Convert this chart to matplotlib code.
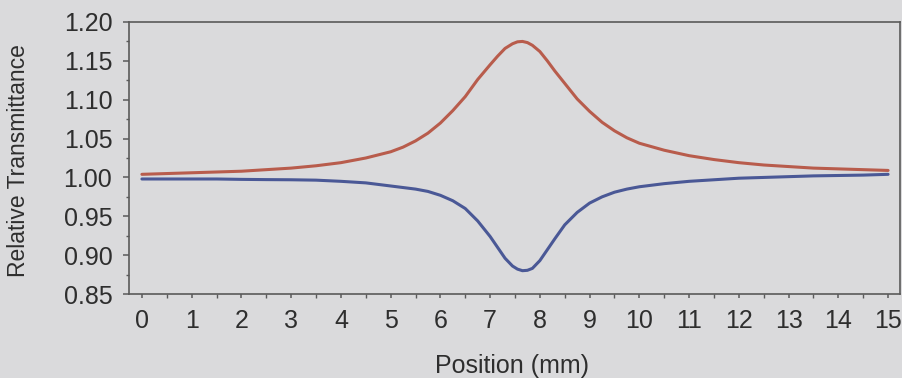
import matplotlib
matplotlib.use("Agg")
import matplotlib.pyplot as plt
from matplotlib.ticker import MultipleLocator, FormatStrFormatter

plt.rcParams["font.family"] = ["Liberation Sans", "DejaVu Sans"]

# z-scan positions (mm)
position = [0, 0.5, 1, 1.5, 2, 2.5, 3, 3.5, 4, 4.5, 5, 5.25, 5.5, 5.75,
            6.0, 6.25, 6.5, 6.75, 7.0, 7.15, 7.3, 7.45, 7.55, 7.65,
            7.75, 7.85, 8.0, 8.15, 8.3, 8.5, 8.75, 9.0, 9.25, 9.5,
            9.75, 10, 10.5, 11, 11.5, 12, 12.5, 13, 13.5, 14, 14.5, 15]

# closed-aperture trace (peak)
peak = [1.004, 1.005, 1.006, 1.007, 1.008, 1.010, 1.012, 1.015, 1.019,
        1.025, 1.033, 1.039, 1.047, 1.057, 1.070, 1.086, 1.104, 1.126,
        1.145, 1.156, 1.166, 1.172, 1.1745, 1.175, 1.1735, 1.170, 1.162,
        1.150, 1.137, 1.121, 1.101, 1.085, 1.071, 1.060, 1.051, 1.044,
        1.035, 1.028, 1.023, 1.019, 1.016, 1.014, 1.012, 1.011, 1.010,
        1.009]

# open-aperture trace (valley)
valley = [0.998, 0.998, 0.998, 0.998, 0.9975, 0.9972, 0.997, 0.9965,
          0.995, 0.993, 0.989, 0.987, 0.985, 0.982, 0.977, 0.970, 0.960,
          0.944, 0.924, 0.910, 0.896, 0.886, 0.882, 0.880, 0.8805, 0.883,
          0.893, 0.907, 0.921, 0.939, 0.955, 0.967, 0.975, 0.981, 0.985,
          0.988, 0.992, 0.995, 0.997, 0.999, 1.000, 1.001, 1.002, 1.0025,
          1.003, 1.004]

bg = "#dadadc"
ink = "#2e2e2e"

fig = plt.figure(figsize=(9.02, 3.78), dpi=100, facecolor=bg)
ax = fig.add_axes([0.143, 0.2222, 0.8548, 0.7196], facecolor=bg)

ax.plot(position, peak, color="#b85c4c", lw=2.2, solid_capstyle="round",
        solid_joinstyle="round")
ax.plot(position, valley, color="#4a5896", lw=2.2, solid_capstyle="round",
        solid_joinstyle="round")

ax.set_xlim(-0.26, 15.24)
ax.set_ylim(0.85, 1.20)

ax.xaxis.set_major_locator(MultipleLocator(1))
ax.xaxis.set_minor_locator(MultipleLocator(0.5))
ax.yaxis.set_major_locator(MultipleLocator(0.05))
ax.yaxis.set_minor_locator(MultipleLocator(0.025))
ax.yaxis.set_major_formatter(FormatStrFormatter("%.2f"))

for s in ax.spines.values():
    s.set_color("#5a5a5a")
    s.set_linewidth(1.2)

ax.tick_params(axis="both", which="major", direction="out", length=4,
               width=1.1, color="#5a5a5a", labelsize=18, labelcolor=ink)
ax.tick_params(axis="both", which="minor", direction="out", length=2.5,
               width=1.0, color="#5a5a5a")
ax.tick_params(axis="x", which="both", length=3)
ax.tick_params(axis="x", which="major", pad=8)
ax.tick_params(axis="y", which="major", pad=8)

ax.set_xlabel("Position (mm)", fontsize=18, color=ink)
ax.set_ylabel("Relative Transmittance", fontsize=16.5, color=ink)
ax.xaxis.set_label_coords(0.497, -0.222)
ax.yaxis.set_label_coords(-0.128, 0.49)

fig.savefig("out.png", dpi=100, facecolor=bg)
